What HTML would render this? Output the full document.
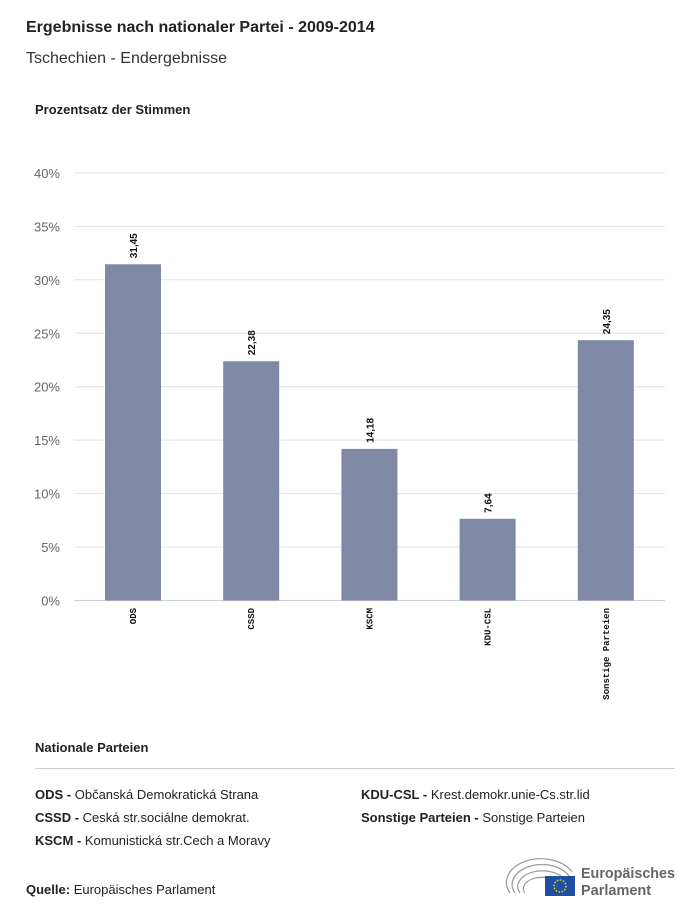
<!DOCTYPE html>
<html><head><meta charset="utf-8"><style>
body{margin:0;width:700px;height:916px;background:#fff;font-family:"Liberation Sans",sans-serif;color:#222;position:relative;overflow:hidden}
.a{position:absolute}
</style></head><body>
<div class="a" style="left:26px;top:19px;font-size:16px;font-weight:bold">Ergebnisse nach nationaler Partei - 2009-2014</div>
<div class="a" style="left:26px;top:50px;font-size:16px;color:#333">Tschechien - Endergebnisse</div>
<div class="a" style="left:35px;top:102px;font-size:13px;font-weight:bold">Prozentsatz der Stimmen</div>
<svg class="a" style="left:0;top:0" width="700" height="730">
<g id="g"></g></svg>
<div class="a" style="left:35px;top:740px;font-size:13px;font-weight:bold">Nationale Parteien</div>
<div class="a" style="left:35px;top:768px;width:640px;height:1px;background:#ccc"></div>
<div class="a" style="left:35px;top:787px;font-size:13px"><b>ODS - </b>Občanská Demokratická Strana</div>
<div class="a" style="left:35px;top:810px;font-size:13px"><b>CSSD - </b>Ceská str.sociálne demokrat.</div>
<div class="a" style="left:35px;top:833px;font-size:13px"><b>KSCM - </b>Komunistická str.Cech a Moravy</div>
<div class="a" style="left:361px;top:787px;font-size:13px"><b>KDU-CSL - </b>Krest.demokr.unie-Cs.str.lid</div>
<div class="a" style="left:361px;top:810px;font-size:13px"><b>Sonstige Parteien - </b>Sonstige Parteien</div>
<div class="a" style="left:26px;top:882px;font-size:13px"><b>Quelle:</b> Europäisches Parlament</div>
<svg class="a" style="left:505px;top:858px" width="180" height="42">
<g fill="none" stroke="#999" stroke-width="1.2">
<path d="M5 35 A32 22 0 0 1 67 14"/><path d="M10 35 A27 18 0 0 1 64 18"/><path d="M15 35 A22 14 0 0 1 60 22"/><path d="M20 35 A17 10 0 0 1 55 26"/></g>
<rect x="40" y="18" width="30" height="20" fill="#1f4fa0"/>
<circle cx="55" cy="28" r="6" fill="none" stroke="#f5d300" stroke-dasharray="1.5 1.6" stroke-width="1.6"/>
<text x="76" y="20" font-size="14.5" font-weight="bold" fill="#666" font-family="Liberation Sans" textLength="94" lengthAdjust="spacingAndGlyphs">Europäisches</text>
<text x="76" y="37" font-size="14.5" font-weight="bold" fill="#666" font-family="Liberation Sans">Parlament</text>
</svg>
<script>
const categories=["ODS","CSSD","KSCM","KDU-CSL","Sonstige Parteien"];
const values=[31.45,22.38,14.18,7.64,24.35];
const valueLabels=["31,45","22,38","14,18","7,64","24,35"];
const ticks=[0,5,10,15,20,25,30,35,40];
const tickLabels=["0%","5%","10%","15%","20%","25%","30%","35%","40%"];
const ns="http://www.w3.org/2000/svg",g=document.getElementById('g');
const y=v=>600.5-v*10.69, x=i=>133+i*118.2;
function mk(t,a,txt){const e=document.createElementNS(ns,t);for(const k in a)e.setAttribute(k,a[k]);if(txt)e.textContent=txt;g.appendChild(e);return e;}
ticks.forEach((t,i)=>{
const l=mk('line',{x1:74,x2:665,y1:y(t),y2:y(t),stroke:t?'#e3e3e3':'#c8d0dc'});


const tx=mk('text',{x:60,y:y(t)+5,'text-anchor':'end','font-size':13,fill:'#666','font-family':'Liberation Sans'},tickLabels[i]);


});
categories.forEach((c,i)=>{
const b=mk('rect',{x:x(i)-28,y:y(values[i]),width:56,height:y(0)-y(values[i]),fill:'#7f88a4'});


const vl=mk('text',{transform:`translate(${x(i)+4},${y(values[i])-6}) rotate(-90)`,'font-size':10,'font-weight':'bold',fill:'#111','font-family':'Liberation Sans'},valueLabels[i]);


const cl=mk('text',{transform:`translate(${x(i)+3},608) rotate(-90)`,'text-anchor':'end','font-size':9,'font-weight':'bold',fill:'#111','font-family':'Liberation Mono'},c);


});
</script>
</body></html>
